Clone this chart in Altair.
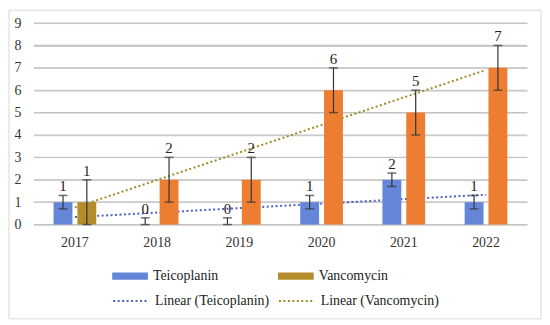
import altair as alt
import pandas as pd

years = [2017, 2018, 2019, 2020, 2021, 2022]
teico = [1, 0, 0, 1, 2, 1]
vanco = [1, 2, 2, 6, 5, 7]
teico_lo = [0.7, 0, 0, 0.7, 1.7, 0.7]
teico_hi = [1.3, 0.3, 0.3, 1.3, 2.3, 1.3]
vanco_lo = [0, 1, 1, 5, 4, 6]
vanco_hi = [2, 3, 3, 7, 6, 8]
series_names = ["Teicoplanin", "Vancomycin"]
grid_values = [0, 1, 2, 3, 4, 5, 6, 7, 8, 9]

rows = []
for i, y in enumerate(years):
    rows.append({"year": y, "series": "Teicoplanin", "count": teico[i], "lo": teico_lo[i], "hi": teico_hi[i]})
    rows.append({"year": y, "series": "Vancomycin", "count": vanco[i], "lo": vanco_lo[i], "hi": vanco_hi[i]})
df = pd.DataFrame(rows)

FONT = "Liberation Serif"
BLUE = "#6585D8"
OLIVE = "#B38D2C"
ORANGE = "#ED7D31"
GRID = "#D9D9D9"
GRIDLINE = "#C4C4C4"


def X():
    return alt.X("year:O", scale=alt.Scale(paddingInner=0, paddingOuter=0),
                 axis=alt.Axis(title=None, orient="bottom", labelAngle=0, ticks=False,
                               domainColor=GRID, grid=False, labelPadding=11,
                               labelFontSize=14, labelColor="#333", labelFont=FONT))


def Y(field):
    return alt.Y(field, scale=alt.Scale(domain=[0, 9], nice=False),
                 axis=alt.Axis(title=None, values=grid_values, ticks=False, domain=False,
                               domainOpacity=0, grid=True, gridColor=GRIDLINE, labelPadding=13,
                               labelFontSize=14, labelColor="#333", labelFont=FONT))


def XOFF():
    return alt.XOffset("series:N", scale=alt.Scale(domain=series_names,
                                                   paddingInner=0.208, paddingOuter=0.829))


base = alt.Chart(df)

frame = alt.Chart(alt.Data(values=[{"k": 1}])).mark_rect(
    filled=False, stroke=GRID, strokeWidth=1
).encode(x=alt.value(-25), x2=alt.value(511), y=alt.value(-13), y2=alt.value(298))

grid = alt.Chart(alt.Data(values=[{"v": v} for v in grid_values])).mark_rule(
    color=GRIDLINE, strokeWidth=1.2
).encode(y=Y("v:Q"), x=alt.value(0), x2=alt.value(497))

trend = base.transform_regression(
    "year", "count", groupby=["series"]
).transform_calculate(
    trend="'Linear (' + datum.series + ')'"
).mark_line(strokeDash=[2, 2.5], strokeWidth=2).encode(
    x=X(),
    y=Y("count:Q"),
    stroke=alt.Stroke("trend:N",
                      scale=alt.Scale(domain=["Linear (Teicoplanin)", "Linear (Vancomycin)"],
                                      range=["#5060C0", "#A08A22"]),
                      legend=alt.Legend(title=None, orient="none", legendX=79, legendY=261,
                                        direction="horizontal", columns=2, columnPadding=5,
                                        symbolType="stroke", symbolSize=1296, symbolDash=[2, 2.5],
                                        symbolStrokeWidth=2, labelOffset=5,
                                        labelFontSize=14, labelColor="#222", labelFont=FONT)),
)

bars = base.mark_bar().encode(
    x=X(),
    xOffset=XOFF(),
    y=Y("count:Q"),
    color=alt.condition(
        "datum.series === 'Vancomycin' && datum.year > 2017",
        alt.value(ORANGE),
        alt.Color("series:N", scale=alt.Scale(domain=series_names, range=[BLUE, OLIVE]),
                  legend=alt.Legend(title=None, orient="none", legendX=79, legendY=237,
                                    direction="horizontal", columns=2, columnPadding=60,
                                    symbolType="M-1,-0.2H1V0.2H-1Z", symbolSize=1296,
                                    symbolStrokeWidth=0, labelOffset=5,
                                    labelFontSize=14, labelColor="#222", labelFont=FONT))
    ),
)

err = base.mark_rule(color="#333", strokeWidth=1.2).encode(
    x=X(), xOffset=XOFF(), y=Y("lo:Q"), y2="hi:Q"
)
cap_hi = base.mark_tick(color="#333", size=9, thickness=1.5).encode(
    x=X(), xOffset=XOFF(), y=Y("hi:Q")
)
cap_lo = base.mark_tick(color="#333", size=9, thickness=1.5).encode(
    x=X(), xOffset=XOFF(), y=Y("lo:Q")
)
labels = base.mark_text(baseline="bottom", dy=-1, fontSize=15, font=FONT, color="#222").encode(
    x=X(), xOffset=XOFF(), y=Y("hi:Q"), text="count:Q"
)

chart = alt.layer(frame, grid, trend, bars, err, cap_hi, cap_lo, labels).properties(
    width=497, height=203, padding=0
).configure(font=FONT).configure_view(strokeWidth=0)

chart.save("out.html", embed_options={"renderer": "svg", "actions": False})
